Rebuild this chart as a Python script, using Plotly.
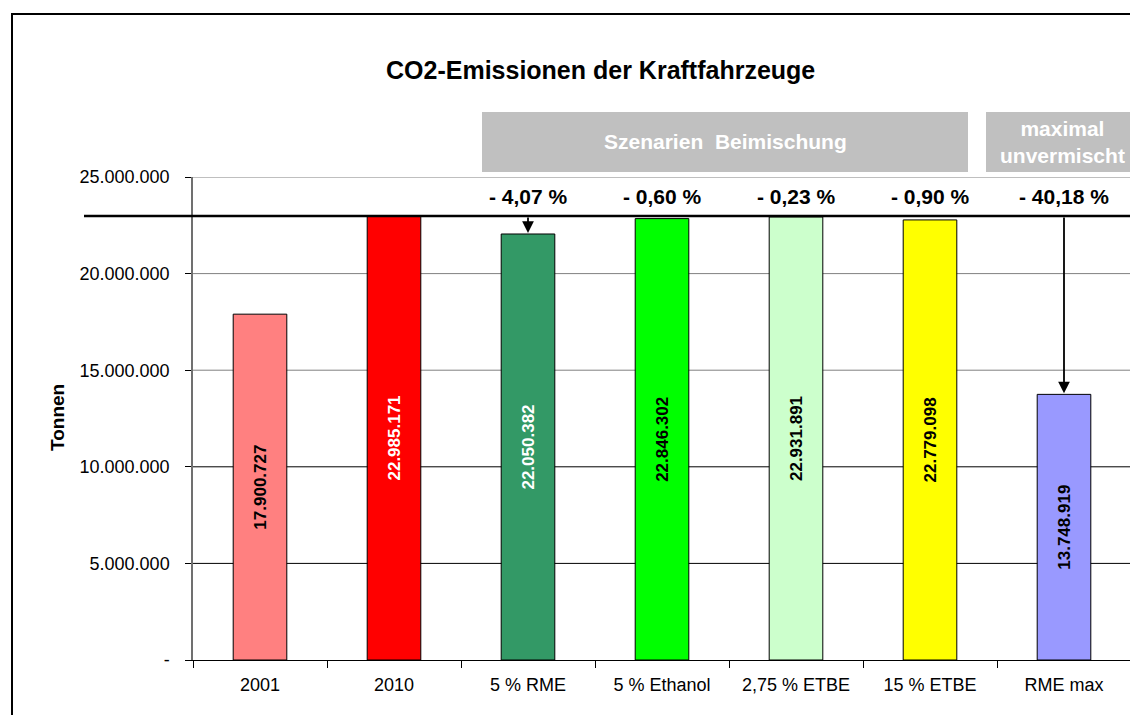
import plotly.graph_objects as go

categories = ["2001", "2010", "5 % RME", "5 % Ethanol", "2,75 % ETBE", "15 % ETBE", "RME max"]
values = [17900727, 22985171, 22050382, 22846302, 22931891, 22779098, 13748919]
bar_colors = ["#FF8080", "#FF0000", "#339966", "#00FF00", "#CCFFCC", "#FFFF00", "#9999FF"]
label_colors = ["black", "white", "white", "black", "black", "black", "black"]
y_tickvals = [0, 5000000, 10000000, 15000000, 20000000, 25000000]
y_ticktext = ["-", "5.000.000", "10.000.000", "15.000.000", "20.000.000", "25.000.000"]
grid_colors = ["black", "black", "black", "#808080", "#808080", "#808080"]
title_text = "CO2-Emissionen der Kraftfahrzeuge"
y_title = "Tonnen"
group1 = "Szenarien  Beimischung"
group2 = "maximal<br>unvermischt"
arrow_targets = [2, 6]

FONT = "Arial, Liberation Sans, sans-serif"

def de_num(v):
    return f"{v:,}".replace(",", ".")

base = values[1]
pct_texts = []
for v in values[2:]:
    p = (base - v) / base * 100
    pct_texts.append(("- " + f"{p:.2f}" + " %").replace(".", ","))

OFF = 8  # page body margin
W, H = 1138 - OFF, 715 - OFF
PL, PR, PT, PB = 193, 1131, 177, 660  # plot area in window pixels
L, R, T, B = PL - OFF, (W + OFF) - PR, PT - OFF, (H + OFF) - PB
pw = PR - PL
ph = PB - PT

def px_x(px):
    return (px - PL) / pw

def px_y(py):
    return (PB - py) / ph

fig = go.Figure()
fig.add_trace(go.Bar(
    x=categories, y=values,
    marker=dict(color=bar_colors, line=dict(color="black", width=1)),
    text=["<b>" + de_num(v) + "</b>" for v in values],
    textposition="inside", insidetextanchor="middle", textangle=-90,
    textfont=dict(family=FONT, size=17, color=label_colors),
    constraintext="none",
    width=0.4, hoverinfo="skip",
))

shapes = []
for tv, gc in zip(y_tickvals[1:], grid_colors[1:]):
    shapes.append(dict(type="line", xref="paper", yref="y", x0=0, x1=1, y0=tv, y1=tv,
                       line=dict(color=gc, width=1), layer="below"))
shapes.append(dict(type="line", xref="paper", yref="paper", x0=1, x1=1, y0=0, y1=1,
                   line=dict(color="#808080", width=1.5)))
shapes.append(dict(type="line", xref="paper", yref="y", x0=px_x(84), x1=px_x(1145),
                   y0=base, y1=base, line=dict(color="black", width=2.5)))
shapes.append(dict(type="rect", xref="paper", yref="paper", x0=px_x(482), x1=px_x(968),
                   y0=px_y(172), y1=px_y(112), fillcolor="#C0C0C0", line=dict(width=0)))
shapes.append(dict(type="rect", xref="paper", yref="paper", x0=px_x(986), x1=px_x(1145),
                   y0=px_y(172), y1=px_y(112), fillcolor="#C0C0C0", line=dict(width=0)))
shapes.append(dict(type="rect", xref="paper", yref="paper", x0=px_x(12), x1=px_x(1170),
                   y0=px_y(760), y1=px_y(14), line=dict(color="black", width=2)))

def ann(text, x, y, size, color="black", angle=0, xref="paper"):
    return dict(text=text, xref=xref, yref="paper", x=x, y=y, showarrow=False,
                xanchor="center", yanchor="middle", textangle=angle,
                font=dict(family=FONT, size=size, color=color))

annotations = [
    ann("<b>" + title_text + "</b>", px_x(600), px_y(70), 25),
    ann("<b>" + y_title + "</b>", px_x(57), px_y(418), 19, angle=-90),
    ann("<b>" + group1 + "</b>", px_x(725), px_y(142), 21, color="white"),
    ann("<b>" + group2 + "</b>", px_x(1062), px_y(142), 21, color="white"),
]
for i, t in enumerate(pct_texts):
    annotations.append(ann("<b>" + t + "</b>", categories[i + 2], px_y(196), 21, xref="x"))
for idx in arrow_targets:
    annotations.append(dict(x=idx, y=values[idx], ax=idx, ay=base, xref="x", yref="y",
                            axref="x", ayref="y", text="", showarrow=True,
                            arrowhead=2, arrowsize=1.3, arrowwidth=1.8, arrowcolor="black",
                            standoff=1))

fig.update_layout(
    width=W, height=H,
    margin=dict(l=L, r=R, t=T, b=B, pad=0),
    paper_bgcolor="white", plot_bgcolor="white",
    showlegend=False,
    bargap=0.6,
    shapes=shapes, annotations=annotations,
    font=dict(family=FONT, color="black"),
)
fig.update_xaxes(
    type="category", showgrid=False, showline=True, linecolor="black", linewidth=1,
    ticks="outside", tickson="boundaries", ticklen=7, tickcolor="black",
    tickfont=dict(family=FONT, size=18, color="black"), ticklabelstandoff=8,
)
fig.update_yaxes(
    range=[0, 25000000], tickvals=y_tickvals, ticktext=y_ticktext,
    showgrid=False, zeroline=False, showline=True, linecolor="#707070", linewidth=1.5,
    ticks="outside", ticklen=6, tickcolor="black",
    tickfont=dict(family=FONT, size=18, color="black"), ticklabelstandoff=12,
)

fig.write_html("out.html")
